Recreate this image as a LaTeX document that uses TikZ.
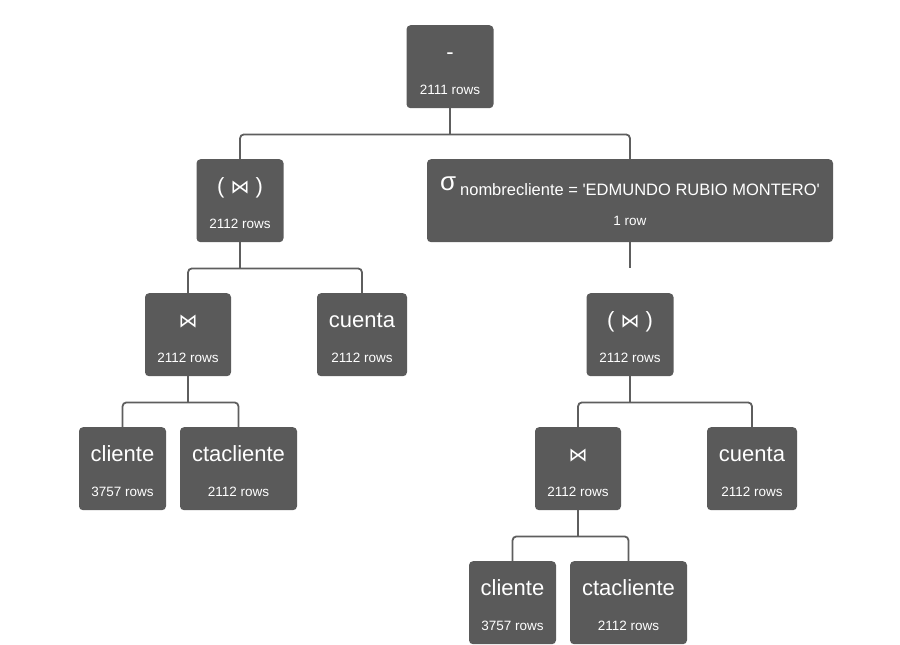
\documentclass[tikz,border=0pt]{standalone}
\usepackage{fontspec}
\setmainfont{Liberation Sans}
\newfontfamily\joinfont{DejaVu Sans}
\usepackage{tikz}
\usetikzlibrary{calc}
\usepackage{xcolor}
\definecolor{opgray}{HTML}{5A5A5A}
\definecolor{linkgray}{HTML}{5E5E5E}
\newcommand{\titlefont}{\fontsize{22}{26}\selectfont}
\newcommand{\rowfont}{\fontsize{13.5}{35}\selectfont}
\newcommand{\joinsym}{{\joinfont\fontsize{19}{22}\selectfont ⋈}}
\newcommand{\opBox}[6]{%
  \node[opnode, minimum width=#4] (#1) at (#2, #3) {{\titlefont\rule{0pt}{20pt}#5}\\#6};%
}

\begin{document}
\begin{tikzpicture}[x=1pt, y=-1pt]
  \tikzset{
    opnode/.style={fill=opgray, rounded corners=4pt, text=white, anchor=north,
      minimum height=83pt, inner sep=0pt, align=center, font=\rowfont},
    link/.style={draw=linkgray, line width=1.8pt, rounded corners=4pt}
  }
  \useasboundingbox (0, 0) rectangle (900, 645);

  % Create boxes of the plan
  \opBox{root}{450}{25}{87pt}{-}{2111 rows}
  \opBox{lj}{240}{159}{87pt}{( \joinsym\ )}{2112 rows}
  \node[opnode, minimum width=406pt] (sel) at (630, 159)
    {{\fontsize{26}{30}\selectfont σ}\hspace{4pt}\raisebox{-5pt}{\fontsize{16.5}{20}\selectfont nombrecliente = \textquotesingle EDMUNDO RUBIO MONTERO\textquotesingle}\\1 row};
  \opBox{ljin}{188}{293}{86pt}{\joinsym}{2112 rows}
  \opBox{lcta}{362}{293}{90pt}{cuenta}{2112 rows}
  \opBox{lcli}{122.5}{427}{87pt}{cliente}{3757 rows}
  \opBox{lctacli}{238.5}{427}{117pt}{ctacliente}{2112 rows}
  \opBox{rj}{630}{293}{87pt}{( \joinsym\ )}{2112 rows}
  \opBox{rjin}{578}{427}{86pt}{\joinsym}{2112 rows}
  \opBox{rcta}{752}{427}{90pt}{cuenta}{2112 rows}
  \opBox{rcli}{512.5}{561}{87pt}{cliente}{3757 rows}
  \opBox{rctacli}{628.5}{561}{117pt}{ctacliente}{2112 rows}

  % Connect the boxes
  \coordinate (rootbar) at ($(root.south)+(0,26)$);
  \draw[link] (root.south) -- (rootbar);
  \draw[link] (lj.north) |- (rootbar) -| (sel.north);

  \coordinate (ljbar) at ($(lj.south)+(0,26)$);
  \draw[link] (lj.south) -- (ljbar);
  \draw[link] (ljin.north) |- (ljbar) -| (lcta.north);

  \coordinate (ljinbar) at ($(ljin.south)+(0,26)$);
  \draw[link] (ljin.south) -- (ljinbar);
  \draw[link] (lcli.north) |- (ljinbar) -| (lctacli.north);

  \coordinate (selbar) at ($(sel.south)+(0,26)$);
  \draw[link] (sel.south) -- (selbar);

  \coordinate (rjbar) at ($(rj.south)+(0,26)$);
  \draw[link] (rj.south) -- (rjbar);
  \draw[link] (rjin.north) |- (rjbar) -| (rcta.north);

  \coordinate (rjinbar) at ($(rjin.south)+(0,26)$);
  \draw[link] (rjin.south) -- (rjinbar);
  \draw[link] (rcli.north) |- (rjinbar) -| (rctacli.north);
\end{tikzpicture}
\end{document}
